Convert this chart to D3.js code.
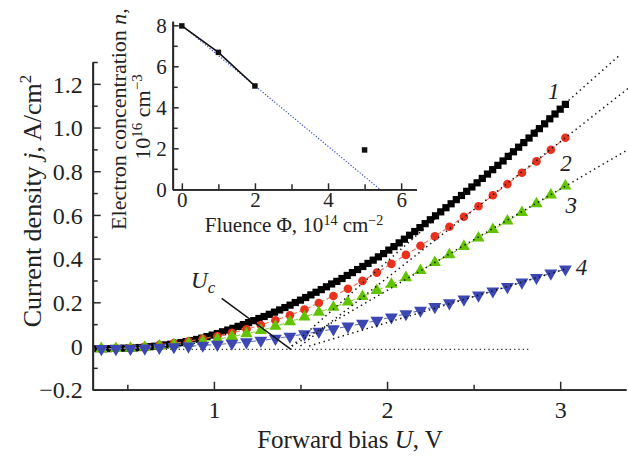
<!DOCTYPE html>
<html><head><meta charset="utf-8">
<script src="https://cdn.jsdelivr.net/npm/d3@7"></script>
<style>body{margin:0;background:#fff} svg{display:block}</style>
</head><body>
<svg id="c" width="628" height="460"></svg>
<script>
// ---- main data: curve 1 (dense) ----
const uBlack = [0.33,0.36,0.39,0.42,0.45,0.48,0.51,0.54,0.57,0.60,0.63,0.66,0.69,0.72,0.75,0.78,0.81,0.84,0.87,0.90,0.93,0.96,0.99,1.02,1.05,1.08,1.11,1.14,1.17,1.20,1.23,1.26,1.29,1.32,1.35,1.38,1.41,1.44,1.47,1.50,1.53,1.56,1.59,1.62,1.65,1.68,1.71,1.74,1.77,1.80,1.83,1.86,1.89,1.92,1.95,1.98,2.01,2.04,2.07,2.10,2.13,2.16,2.19,2.22,2.25,2.28,2.31,2.34,2.37,2.40,2.43,2.46,2.49,2.52,2.55,2.58,2.61,2.64,2.67,2.70,2.73,2.76,2.79,2.82,2.85,2.88,2.91,2.94,2.97,3.00,3.03];
const jBlack = [-0.012,-0.012,-0.012,-0.011,-0.011,-0.010,-0.010,-0.009,-0.007,-0.006,-0.003,-0.001,0.002,0.005,0.008,0.012,0.016,0.020,0.025,0.030,0.036,0.043,0.050,0.057,0.065,0.073,0.081,0.090,0.098,0.107,0.116,0.126,0.135,0.145,0.155,0.165,0.176,0.187,0.199,0.210,0.222,0.234,0.246,0.258,0.271,0.284,0.296,0.309,0.323,0.336,0.350,0.364,0.378,0.393,0.408,0.423,0.439,0.455,0.472,0.489,0.507,0.524,0.542,0.560,0.578,0.596,0.614,0.633,0.651,0.670,0.689,0.708,0.728,0.747,0.767,0.787,0.807,0.827,0.847,0.868,0.889,0.910,0.931,0.952,0.974,0.995,1.017,1.040,1.062,1.084,1.106];
// ---- curves 2-4 ----
const uGrid = [0.35,0.434,0.518,0.601,0.685,0.769,0.853,0.936,1.02,1.104,1.188,1.271,1.355,1.439,1.523,1.606,1.69,1.774,1.858,1.941,2.025,2.109,2.193,2.276,2.36,2.444,2.528,2.611,2.695,2.779,2.863,2.946,3.03];
const jRed = [-0.012,-0.011,-0.009,-0.004,0.005,0.013,0.022,0.033,0.045,0.060,0.077,0.096,0.118,0.141,0.167,0.197,0.229,0.262,0.298,0.336,0.376,0.417,0.459,0.502,0.546,0.592,0.640,0.690,0.741,0.793,0.845,0.898,0.953];
const jGreen = [-0.012,-0.011,-0.010,-0.006,0.000,0.006,0.013,0.021,0.031,0.043,0.056,0.071,0.090,0.111,0.133,0.155,0.177,0.201,0.227,0.254,0.283,0.313,0.346,0.382,0.418,0.456,0.494,0.533,0.572,0.611,0.651,0.691,0.732];
const jBlue = [-0.013,-0.013,-0.012,-0.010,-0.007,-0.004,-0.001,0.003,0.007,0.012,0.018,0.025,0.034,0.044,0.055,0.066,0.078,0.090,0.103,0.117,0.132,0.147,0.163,0.180,0.197,0.214,0.232,0.251,0.271,0.292,0.313,0.333,0.352];
// tangent (extrapolation) lines: start at j=0, end point
const tangentU0 = [1.45, 1.50, 1.45, 1.55];
const tangentU1 = [3.35, 3.40, 3.40, 3.03];
const tangentJ1 = [1.336, 1.184, 0.903, 0.352];
const zeroLineU = [0.30, 2.82];
const zeroLineJ = -0.015;
const arrowU = [1.045, 1.445];
const arrowJ = [0.218, -0.015];
const curveLabels = ["1","2","3","4"];
const curveLabelU = [2.93, 3.00, 3.03, 3.09];
const curveLabelJ = [1.13, 0.80, 0.61, 0.325];
// ticks
const yMajor = [-0.2,0,0.2,0.4,0.6,0.8,1.0,1.2];
const yLabels = ["\u22120.2","0","0.2","0.4","0.6","0.8","1.0","1.2"];
const yMinor = [-0.1,0.1,0.3,0.5,0.7,0.9,1.1,1.3];
const xMajor = [1,2,3];
const xMinor = [0.5,1.5,2.5];
// ---- inset data ----
const fluence = [0,1,2,5];
const conc = [7.97,6.68,5.04,1.92];
const fitPhi = [0,5.42];
const fitN = [8.0,0];
const insetXMajor = [0,2,4,6];
const insetXMinor = [1,3,5];
const insetYMajor = [0,2,4,6,8];
const insetYMinor = [1,3,5,7];

const svg = d3.select("#c");
const FONT = "'Liberation Serif','Times New Roman',serif";
const AX = "#2a2a2a";

const x = d3.scaleLinear().domain([0.3,3.38]).range([92.7,626]);
const y = d3.scaleLinear().domain([-0.2,1.3]).range([389.7,62]);

function styleAxis(g, fs){
  g.select(".domain").attr("stroke",AX).attr("stroke-width",1.8);
  g.selectAll(".tick line").attr("stroke",AX).attr("stroke-width",1.5);
  g.selectAll(".tick text").attr("font-family",FONT).attr("font-size",fs).attr("fill","#222");
}
const yAxMin = svg.append("g").attr("transform",`translate(${x.range()[0]},0)`)
  .call(d3.axisLeft(y).tickValues(yMinor).tickSize(-5).tickSizeOuter(0).tickFormat(""));
styleAxis(yAxMin,24);
const yAx = svg.append("g").attr("transform",`translate(${x.range()[0]},0)`)
  .call(d3.axisLeft(y).tickValues(yMajor).tickSize(-8).tickSizeOuter(0).tickPadding(10)
    .tickFormat((d,i)=>yLabels[i]));
styleAxis(yAx,24);
yAx.selectAll(".tick text").attr("dy","0.34em");
const xAxMin = svg.append("g").attr("transform",`translate(0,${y.range()[0]})`)
  .call(d3.axisBottom(x).tickValues(xMinor).tickSize(-5).tickSizeOuter(0).tickFormat(""));
styleAxis(xAxMin,24);
const xAx = svg.append("g").attr("transform",`translate(0,${y.range()[0]})`)
  .call(d3.axisBottom(x).tickValues(xMajor).tickSize(-8).tickSizeOuter(0).tickPadding(11)
    .tickFormat(d3.format("d")));
styleAxis(xAx,24);

// axis titles
const yt = svg.append("text").attr("transform","translate(41,201) rotate(-90)")
  .attr("text-anchor","middle").attr("font-family",FONT).attr("font-size",26).attr("fill","#222");
yt.append("tspan").text("Current density ");
yt.append("tspan").attr("font-style","italic").text("j");
yt.append("tspan").text(", A/cm");
yt.append("tspan").attr("font-size",17).attr("dy",-10).text("2");
const xt = svg.append("text").attr("x",350).attr("y",448)
  .attr("text-anchor","middle").attr("font-family",FONT).attr("font-size",25).attr("fill","#222");
xt.append("tspan").text("Forward bias ");
xt.append("tspan").attr("font-style","italic").text("U");
xt.append("tspan").text(", V");

// zero dotted line
svg.append("line").attr("x1",x(zeroLineU[0])).attr("x2",x(zeroLineU[1]))
  .attr("y1",y(zeroLineJ)).attr("y2",y(zeroLineJ))
  .attr("stroke","#333").attr("stroke-width",1.3).attr("stroke-dasharray","1.3,3");

const line = d3.line().x(d=>x(d[0])).y(d=>y(d[1]));

// curve 1
const blackPts = uBlack.map((u,i)=>[u,jBlack[i]]);
svg.append("path").attr("d",line(blackPts)).attr("fill","none").attr("stroke","#000").attr("stroke-width",1);
svg.append("g").selectAll("path").data(blackPts).join("path")
  .attr("transform",d=>`translate(${x(d[0])},${y(d[1])})`)
  .attr("d",d3.symbol(d3.symbolSquare,52)()).attr("fill","#000");

function series(js, lineColor, fill, sym, size, rot){
  const pts = uGrid.map((u,i)=>[u,js[i]]);
  svg.append("path").attr("d",line(pts)).attr("fill","none").attr("stroke",lineColor)
    .attr("stroke-width",1.1).attr("stroke-dasharray","5,2.5");
  svg.append("g").selectAll("path").data(pts).join("path")
    .attr("transform",d=>`translate(${x(d[0])},${y(d[1])}) rotate(${rot})`)
    .attr("d",d3.symbol(sym,size)()).attr("fill",fill);
}
series(jRed,"#f0705f","#e8321e",d3.symbolCircle,58,0);
series(jGreen,"#8fd24a","#62c400",d3.symbolTriangle,64,0);
series(jBlue,"#6670cc","#3d47b2",d3.symbolTriangle,72,180);

// tangents
tangentU0.forEach((u0,i)=>{
  svg.append("line").attr("x1",x(u0)).attr("y1",y(0)).attr("x2",x(tangentU1[i])).attr("y2",y(tangentJ1[i]))
    .attr("stroke","#111").attr("stroke-width",1.5).attr("stroke-dasharray","1.4,3.6");
});

// Uc arrow + label
svg.append("line").attr("x1",x(arrowU[0])).attr("y1",y(arrowJ[0])).attr("x2",x(arrowU[1])).attr("y2",y(arrowJ[1]))
  .attr("stroke","#111").attr("stroke-width",1.5);
const uc = svg.append("text").attr("x",191).attr("y",288).attr("font-family",FONT).attr("font-size",23)
  .attr("font-style","italic").attr("fill","#222");
uc.append("tspan").text("U");
uc.append("tspan").attr("font-size",17).attr("dy",5).text("c");

// curve labels
curveLabels.forEach((t,i)=>{
  svg.append("text").attr("x",x(curveLabelU[i])).attr("y",y(curveLabelJ[i]))
    .attr("font-family",FONT).attr("font-size",23).attr("font-style","italic").attr("fill","#222").text(t);
});

// ---- inset ----
const xi = d3.scaleLinear().domain([-0.25,6.42]).range([172.7,416.5]);
const yi = d3.scaleLinear().domain([0,8.2]).range([189.3,21.2]);
const iyMin = svg.append("g").attr("transform",`translate(${xi.range()[0]},0)`)
  .call(d3.axisLeft(yi).tickValues(insetYMinor).tickSize(-5).tickSizeOuter(0).tickFormat(""));
styleAxis(iyMin,21);
const iy = svg.append("g").attr("transform",`translate(${xi.range()[0]},0)`)
  .call(d3.axisLeft(yi).tickValues(insetYMajor).tickSize(-6).tickSizeOuter(0).tickPadding(6).tickFormat(d3.format("d")));
styleAxis(iy,21);
iy.selectAll(".tick text").attr("dy","0.34em");
const ixMin = svg.append("g").attr("transform",`translate(0,${yi.range()[0]})`)
  .call(d3.axisBottom(xi).tickValues(insetXMinor).tickSize(-5).tickSizeOuter(0).tickFormat(""));
styleAxis(ixMin,21);
const ix = svg.append("g").attr("transform",`translate(0,${yi.range()[0]})`)
  .call(d3.axisBottom(xi).tickValues(insetXMajor).tickSize(-6).tickSizeOuter(0).tickPadding(3).tickFormat(d3.format("d")));
styleAxis(ix,21);

const lineI = d3.line().x(d=>xi(d[0])).y(d=>yi(d[1]));
svg.append("path").attr("d",lineI(fitPhi.map((p,i)=>[p,fitN[i]]))).attr("fill","none")
  .attr("stroke","#3a4bc8").attr("stroke-width",1.2).attr("stroke-dasharray","1.2,1.8");
svg.append("path").attr("d",lineI(fluence.slice(0,3).map((p,i)=>[p,conc[i]]))).attr("fill","none")
  .attr("stroke","#111").attr("stroke-width",1.6);
svg.append("g").selectAll("path").data(fluence.map((p,i)=>[p,conc[i]])).join("path")
  .attr("transform",d=>`translate(${xi(d[0])},${yi(d[1])})`)
  .attr("d",d3.symbol(d3.symbolSquare,30)()).attr("fill","#111");

const it1 = svg.append("text").attr("transform","translate(126,119) rotate(-90)")
  .attr("text-anchor","middle").attr("font-family",FONT).attr("font-size",22).attr("fill","#222");
it1.append("tspan").text("Electron concentration ");
it1.append("tspan").attr("font-style","italic").text("n");
it1.append("tspan").text(",");
const it2 = svg.append("text").attr("transform","translate(150,117) rotate(-90)")
  .attr("text-anchor","middle").attr("font-family",FONT).attr("font-size",22).attr("fill","#222");
it2.append("tspan").text("10");
it2.append("tspan").attr("font-size",15).attr("dy",-8).text("16");
it2.append("tspan").attr("dy",8).text(" cm");
it2.append("tspan").attr("font-size",15).attr("dy",-8).text("\u22123");
const it3 = svg.append("text").attr("x",294).attr("y",232)
  .attr("text-anchor","middle").attr("font-family",FONT).attr("font-size",21).attr("fill","#222");
it3.append("tspan").text("Fluence \u03A6, 10");
it3.append("tspan").attr("font-size",14).attr("dy",-7).text("14");
it3.append("tspan").attr("dy",7).text(" cm");
it3.append("tspan").attr("font-size",14).attr("dy",-7).text("\u22122");
</script>
</body></html>
